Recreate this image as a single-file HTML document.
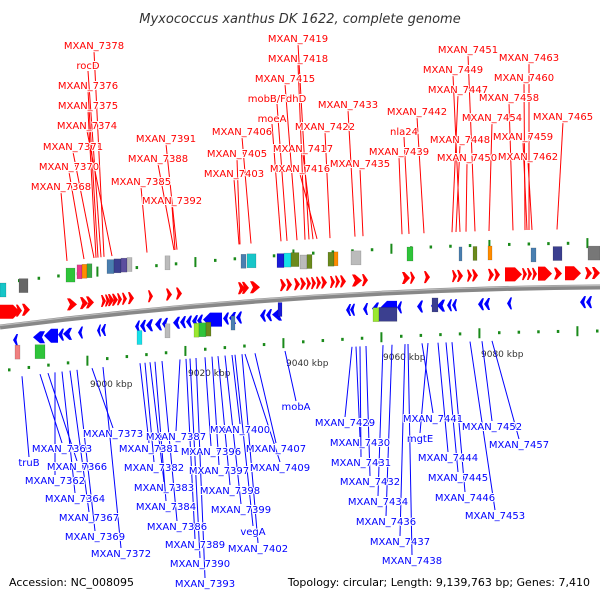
<!DOCTYPE html>
<html><head><meta charset="utf-8"><style>
html,body{margin:0;padding:0;background:#fff}
svg text{font-family:"DejaVu Sans","Liberation Sans",sans-serif}
.lab{font-size:10px;paint-order:stroke;stroke:#fff;stroke-width:2px;stroke-linejoin:round}
</style></head><body>
<svg id="map" width="600" height="600" viewBox="0 0 600 600" xmlns="http://www.w3.org/2000/svg">
<text x="300" y="23" text-anchor="middle" font-size="13" font-style="italic" fill="#333">Myxococcus xanthus DK 1622, complete genome</text>
<g id="ticks"></g><g id="lines"></g>
<path d="M0,327 Q300,289 600,287" stroke="#888" stroke-width="5" fill="none"/>
<path d="M0,325.5 Q300,287.5 600,285.5" stroke="#bbb" stroke-width="1.2" fill="none"/>
<g id="feat"></g><g id="labs"></g>
<text x="9" y="586" font-size="11" fill="#000">Accession: NC_008095</text>
<text x="590" y="586" text-anchor="end" font-size="11" fill="#000">Topology: circular; Length: 9,139,763 bp; Genes: 7,410</text>
</svg>
<script>
const redLabels=[["MXAN_7378",94,49,104],["rocD",88,69,101],["MXAN_7376",88,89,98],["MXAN_7375",88,109,96],["MXAN_7374",87,129,112],["MXAN_7371",73,150,94],["MXAN_7370",69,170,84],["MXAN_7368",61,190,67],
["MXAN_7391",166,142,177],["MXAN_7388",158,162,174],["MXAN_7385",141,185,147],["MXAN_7392",172,204,175],
["MXAN_7419",298,42,309],["MXAN_7418",298,62,305],["MXAN_7415",285,82,297],["mobB/FdhD",277,102,287],["moeA",272,122,281],["MXAN_7406",242,135,251],["MXAN_7405",237,157,240],["MXAN_7403",234,177,239],
["MXAN_7422",325,130,330],["MXAN_7417",303,152,313],["MXAN_7416",300,172,317],["MXAN_7433",348,108,355],["MXAN_7435",360,167,363],
["MXAN_7442",417,115,424],["nla24",404,135,409],["MXAN_7439",399,155,402],["MXAN_7451",468,53,475],["MXAN_7449",453,73,460],["MXAN_7447",458,93,452],["MXAN_7448",460,143,456],["MXAN_7450",467,161,466],
["MXAN_7454",492,121,489],["MXAN_7458",509,101,513],["MXAN_7460",524,81,525],["MXAN_7463",529,61,529],["MXAN_7465",563,120,557],["MXAN_7459",523,140,527],["MXAN_7462",528,160,532]];
const blueLabels=[["truB",29,466,22],["MXAN_7363",62,452,40],["MXAN_7366",77,470,48],["MXAN_7362",55,484,55],["MXAN_7364",75,502,62],["MXAN_7367",89,521,70],["MXAN_7369",95,540,77],["MXAN_7372",121,557,103],["MXAN_7373",113,437,92],
["MXAN_7387",176,440,180],["MXAN_7381",149,452,140],["MXAN_7382",154,471,145],["MXAN_7383",164,491,150],["MXAN_7384",166,510,155],["MXAN_7386",177,530,162],["MXAN_7389",195,548,186],["MXAN_7390",200,567,190],["MXAN_7393",205,587,196],
["MXAN_7396",211,455,205],["MXAN_7397",219,474,212],["MXAN_7398",230,494,218],["MXAN_7399",241,513,225],["vegA",253,535,235],["MXAN_7402",258,552,242],["MXAN_7400",240,433,232],["MXAN_7407",276,452,255],["MXAN_7409",280,471,245],["mobA",296,410,285],
["MXAN_7429",345,426,352],["MXAN_7430",360,446,356],["MXAN_7431",361,466,360],["MXAN_7432",370,485,366],["MXAN_7434",378,505,383],["MXAN_7436",386,525,392],["MXAN_7437",400,545,405],["MXAN_7438",412,564,408],
["MXAN_7441",433,422,422],["mgtE",420,442,428],["MXAN_7444",448,461,438],["MXAN_7445",458,481,446],["MXAN_7446",465,501,452],["MXAN_7453",495,519,470],["MXAN_7452",492,430,482],["MXAN_7457",519,448,492]];
const redArrows=[[0,20],[16,22],[22,30],[67,77],[80,88],[86,94],[101,106],[105,110],[108,114],[112,118],[117,122],[122,127],[128,134],[148,153],[166,172],[176,182],[238,245],[242,249],[250,260],[280,286],[286,292],[294,300],[300,306],[306,311],[311,316],[316,321],[321,327],[330,335],[335,340],[340,346],[352,362],[362,368],[402,410],[410,415],[424,430],[452,457],[457,463],[467,472],[472,478],[488,494],[494,500],[505,522],[522,527],[527,532],[532,537],[538,552],[554,562],[565,581],[585,592],[592,600]];
const blueArrows=[[13,18],[33,45],[44,58],[58,64],[63,72],[78,83],[97,101],[101,106],[135,140],[140,146],[146,153],[155,162],[162,168],[173,180],[180,186],[186,192],[192,198],[197,203],[203,222],[223,229],[229,236],[236,242],[260,266],[266,272],[272,282],[346,351],[350,355],[363,368],[372,379],[380,397],[397,402],[417,423],[431,437],[437,445],[447,452],[452,457],[478,484],[484,490],[507,512],[580,586],[586,592]];
const boxes=[[0,-37,6,"#17c5c8"],[19,-39,9,"#666"],[66,-44,9,"#2fc43a"],[77,-46,5,"#e8388a"],[82,-46,5,"#ff8c00"],[87,-46,5,"#3aa845"],[107,-48,7,"#4a7fb0"],[114,-48,7,"#3b3f8f"],[121,-48,6,"#5b4e9e"],[127,-48,5,"#bbb"],[165,-46,5,"#bbb"],[241,-41,5,"#4a7fb0"],[247,-41,9,"#17c5c8"],[277,-39,7,"#1a1ad8"],[284,-39,7,"#17e0e8"],[291,-39,8,"#6b8a1c"],[300,-36,7,"#bbb"],[307,-36,5,"#6b8a1c"],[328,-37,6,"#6b8a1c"],[334,-37,4,"#ff8c00"],[351,-37,10,"#bbb"],[407,-38,6,"#2fc43a"],[459,-36,3,"#4a7fb0"],[473,-36,4,"#6b8a1c"],[488,-36,4,"#ff8c00"],[531,-33,5,"#4a7fb0"],[553,-34,9,"#3b3f8f"],[588,-34,12,"#777"],
[15,27,5,"#f08080"],[35,29,10,"#2fc43a"],[137,26,5,"#17e0e8"],[165,22,5,"#bbb"],[194,24,5,"#9ae830"],[199,24,7,"#2fc43a"],[206,24,5,"#6b8a1c"],[231,20,4,"#4a7fb0"],[278,10,4,"#1a1ad8"],[373,21,6,"#9ae830"],[379,21,18,"#3b3f8f"],[432,14,6,"#3b3f8f"]];
const kbpLabels=[["9000 kbp",90,387],["9020 kbp",188,376],["9040 kbp",286,366],["9060 kbp",383,360],["9080 kbp",481,357]];
const NS="http://www.w3.org/2000/svg";
function by(x){const t=x/600;return (1-t)*(1-t)*327+2*t*(1-t)*289+t*t*287;}
function mk(tag,attrs,parent){const e=document.createElementNS(NS,tag);for(const k in attrs)e.setAttribute(k,attrs[k]);parent.appendChild(e);return e;}
const G=id=>document.getElementById(id);
for(let i=0;i<31;i++){const x=19+i*19.6;const big=(i%5===4);
 let e=mk("rect",{x:x-1,y:by(x)-44-(big?5:1.5),width:big?2:2.5,height:big?10:3,fill:"#1a8a1a"},G("ticks"));
 
 const x2=x-10;e=mk("rect",{x:x2-1,y:by(x2)+44-(big?5:1.5),width:big?2:2.5,height:big?10:3,fill:"#1a8a1a"},G("ticks"));
 }
kbpLabels.forEach(k=>{const e=mk("text",{x:k[1],y:k[2],"font-size":"9",fill:"#333"},G("ticks"));e.textContent=k[0];
 });
function arrow(a,dir,col,off){const x0=a[0],x1=a[1],w=x1-x0;const h=Math.min(7,w*0.7);const cy=by((x0+x1)/2)+off;const hh=w>12?7:6;
 let pts;if(dir>0)pts=[[x0,cy-hh],[x1-h,cy-hh],[x1,cy],[x1-h,cy+hh],[x0,cy+hh],[x0+Math.min(3,w*0.3),cy]];
 else pts=[[x1,cy-hh],[x0+h,cy-hh],[x0,cy],[x0+h,cy+hh],[x1,cy+hh],[x1-Math.min(3,w*0.3),cy]];
 if(w>12){pts=dir>0?[[x0,cy-hh],[x1-h,cy-hh],[x1,cy],[x1-h,cy+hh],[x0,cy+hh]]:[[x1,cy-hh],[x0+h,cy-hh],[x0,cy],[x0+h,cy+hh],[x1,cy+hh]];}
 const e=mk("polygon",{points:pts.map(p=>p.join(",")).join(" "),fill:col},G("feat"));return e;}
redArrows.forEach(a=>{const e=arrow(a,1,"#ff0000",-14);});
blueArrows.forEach(a=>{const e=arrow(a,-1,"#0000ff",15);});
boxes.forEach(b=>{const cy=by(b[0])+b[1];const e=mk("rect",{x:b[0],y:cy-7,width:b[2],height:14,fill:b[3],stroke:"rgba(0,0,0,0.25)","stroke-width":"0.5"},G("feat"));
 });
redLabels.forEach(l=>{let e=mk("line",{x1:l[1],y1:l[2]+2,x2:l[3],y2:by(l[3])-58,stroke:"#ff0000","stroke-width":"1"},G("lines"));
 
 e=mk("text",{x:l[1],y:l[2],"text-anchor":"middle",fill:"#ff0000",class:"lab"},G("labs"));e.textContent=l[0];
 });
blueLabels.forEach(l=>{let e=mk("line",{x1:l[1],y1:l[2]-9,x2:l[3],y2:by(l[3])+52,stroke:"#0000ff","stroke-width":"1"},G("lines"));
 
 e=mk("text",{x:l[1],y:l[2],"text-anchor":"middle",fill:"#0000ff",class:"lab"},G("labs"));e.textContent=l[0];
 });
</script>
</body></html>
